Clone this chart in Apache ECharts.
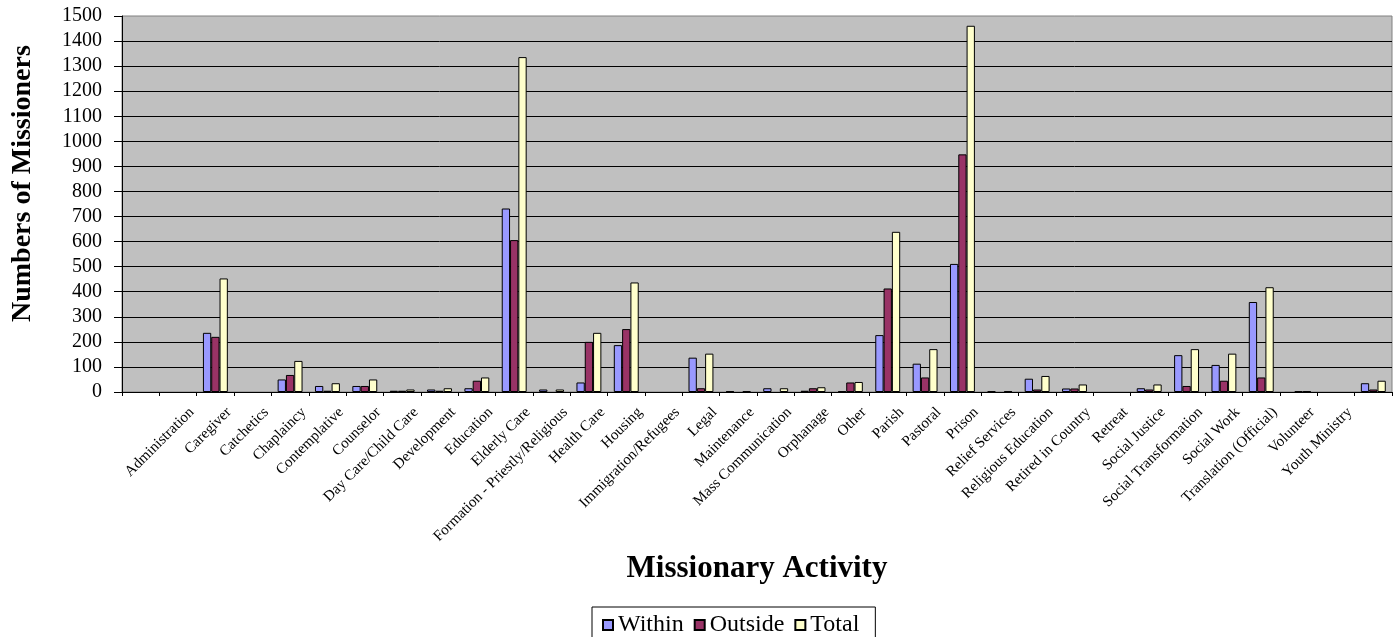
<!DOCTYPE html>
<html>
<head>
<meta charset="utf-8">
<script src="https://cdn.jsdelivr.net/npm/echarts@6/dist/echarts.min.js"></script>
<style>
html,body{margin:0;padding:0;background:#fff;}
#chart{width:1397px;height:637px;}
</style>
</head>
<body>
<div id="chart"></div>
<script>
// Categories (two blank leading rows in the source sheet)
var categories = ['', '', 'Administration', 'Caregiver', 'Catchetics', 'Chaplaincy', 'Contemplative', 'Counselor',
  'Day Care/Child Care', 'Development', 'Education', 'Elderly Care', 'Formation - Priestly/Religious',
  'Health Care', 'Housing', 'Immigration/Refugees', 'Legal', 'Maintenance', 'Mass Communication',
  'Orphanage', 'Other', 'Parish', 'Pastoral', 'Prison', 'Relief Services', 'Religious Education',
  'Retired in Country', 'Retreat', 'Social Justice', 'Social Transformation', 'Social Work',
  'Translation (Official)', 'Volunteer', 'Youth Ministry'];

var within  = [0, 0, 236, 0, 50, 24, 24, 5, 10, 15, 732, 10, 38, 187, 0, 137, 3, 15, 5, 3, 227, 113, 511, 3, 53, 14, 0, 15, 147, 108, 359, 0, 0, 35];
var outside = [0, 0, 220, 0, 68, 5, 24, 5, 5, 45, 606, 0, 200, 251, 0, 15, 0, 0, 15, 38, 413, 58, 948, 0, 10, 14, 0, 10, 24, 45, 58, 3, 0, 10];
var total   = [0, 0, 453, 0, 124, 35, 50, 10, 15, 58, 1336, 10, 236, 437, 0, 153, 3, 15, 19, 40, 639, 171, 1461, 3, 64, 30, 0, 30, 171, 153, 418, 3, 0, 45];

var seriesNames = ['Within', 'Outside', 'Total'];
var seriesColors = ['#9999FF', '#993366', '#FFFFCC'];
var yTitle = 'Numbers of Missioners';
var xTitle = 'Missionary Activity';

var FONT = "'Liberation Serif', 'Times New Roman', serif";

// label axis: labels sit at category boundaries (as in the source picture)
var labelAxisData = categories.concat(['']);

var chart = echarts.init(document.getElementById('chart'), null, {renderer: 'canvas'});

function bar(name, data, color) {
  return {
    name: name, type: 'bar', xAxisIndex: 0, yAxisIndex: 0,
    // zero values are not drawn (empty cells in the source)
    data: data.map(function (v) { return v === 0 ? '-' : v; }),
    barGap: '0%', barCategoryGap: '33.3%',
    itemStyle: {color: color, borderColor: '#000', borderWidth: 1},
    emphasis: {disabled: true},
    animation: false
  };
}

chart.setOption({
  animation: false,
  backgroundColor: '#ffffff',
  grid: [{
    left: 122, right: 5, top: 16, bottom: 245,
    show: true, backgroundColor: '#C0C0C0', borderColor: '#808080', borderWidth: 1,
    containLabel: false
  }, {
    // text-only grid for the category labels (slightly offset like the source)
    left: 117, right: 10, top: 16, bottom: 245, show: false, containLabel: false
  }],
  xAxis: [{
    type: 'category', data: categories, position: 'bottom', gridIndex: 0,
    boundaryGap: true,
    axisLine: {show: true, lineStyle: {color: '#000', width: 1}},
    axisTick: {show: true, length: 4, interval: 0, lineStyle: {color: '#000'}},
    axisLabel: {show: false},
    splitLine: {show: false},
    name: xTitle, nameLocation: 'middle', nameGap: 161,
    nameTextStyle: {fontFamily: FONT, fontSize: 31, fontWeight: 'bold', color: '#000'}
  }, {
    type: 'category', data: labelAxisData, position: 'bottom', gridIndex: 1,
    boundaryGap: false,
    axisLine: {show: false}, axisTick: {show: false},
    splitLine: {show: false},
    axisLabel: {show: true, interval: 0, rotate: 45, margin: 18,
      fontFamily: FONT, fontSize: 15, color: '#000'}
  }],
  yAxis: [{
    type: 'value', min: 0, max: 1500, interval: 100, gridIndex: 0,
    axisLine: {show: true, lineStyle: {color: '#000', width: 1}},
    axisTick: {show: true, length: 8, lineStyle: {color: '#000'}},
    axisLabel: {margin: 20, fontFamily: FONT, fontSize: 20, color: '#000',
      formatter: function (v) { return String(v); }},
    splitLine: {show: true, showMaxLine: false, lineStyle: {color: '#000', width: 1}}
  }, {
    type: 'value', min: 0, max: 1500, gridIndex: 1, show: false
  }],
  legend: {
    data: seriesNames, left: 592, top: 607, orient: 'horizontal',
    icon: 'rect', itemWidth: 10, itemHeight: 10, itemGap: 10,
    padding: [6, 16, 10, 10],
    borderColor: '#000', borderWidth: 1, backgroundColor: '#fff',
    textStyle: {fontFamily: FONT, fontSize: 24, color: '#000'}
  },
  graphic: [{
    type: 'text', x: 23, y: 322, rotation: Math.PI / 2,
    style: {text: yTitle, font: "bold 28px 'Liberation Serif', 'Times New Roman', serif",
      fill: '#000', textAlign: 'left', textVerticalAlign: 'middle'}
  }],
  series: [
    bar(seriesNames[0], within, seriesColors[0]),
    bar(seriesNames[1], outside, seriesColors[1]),
    bar(seriesNames[2], total, seriesColors[2])
  ]
});
</script>
</body>
</html>
